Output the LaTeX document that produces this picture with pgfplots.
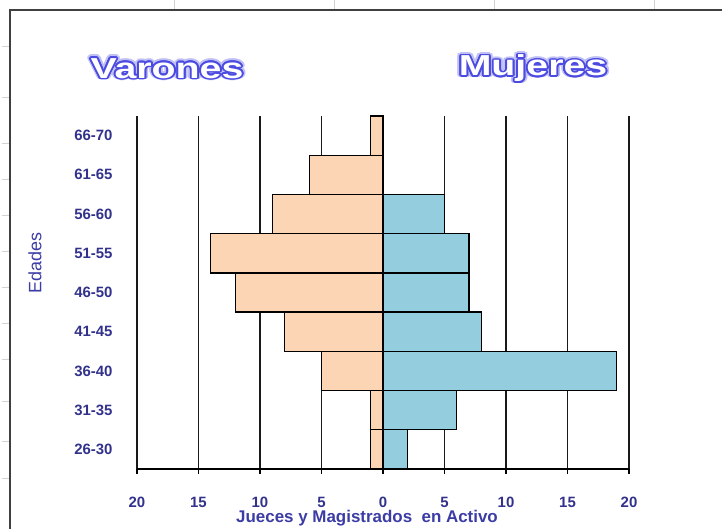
\documentclass[border=0pt]{standalone}
\usepackage{pgfplots}
\pgfplotsset{compat=1.18}
\usepackage{fontspec}
\setmainfont{Liberation Sans}
\usepackage{contour}
\contourlength{1.4pt}
\contournumber{16}
\definecolor{peach}{RGB}{252,213,180}
\definecolor{lblue}{RGB}{148,205,221}
\definecolor{navy}{RGB}{50,50,140}
\definecolor{lab}{RGB}{60,60,165}
\definecolor{tblue}{RGB}{75,75,225}
\begin{document}
\begin{tikzpicture}[x=1bp,y=1bp]
\begin{axis}[
  scale only axis, width=492bp, height=353bp,
  xmin=-20, xmax=20, ymin=-0.5, ymax=8.5,
  axis x line*=bottom, axis y line*=left,
  axis line style={-, black, line width=1.4bp},
  y axis line style={draw=none},
  xtick={-20,-15,-10,-5,0,5,10,15,20},
  xticklabels={20,15,10,5,0,5,10,15,20},
  ytick={0,1,2,3,4,5,6,7,8},
  yticklabels={26-30,31-35,36-40,41-45,46-50,51-55,56-60,61-65,66-70},
  tick align=outside, major tick length=5bp,
  xtick style={black, line width=1.4bp},
  ytick style={draw=none},
  xmajorgrids, major grid style={black!90, line width=1.4bp},
  tick label style={font=\bfseries\fontsize{15}{15}\selectfont, text=navy},
  xticklabel style={yshift=-20bp},
  yticklabel style={xshift=-16bp},
  xlabel={Jueces y Magistrados\ \ en Activo},
  xlabel style={at={(rel axis cs:0.4675,-0.138)}, anchor=center, font=\bfseries\fontsize{17}{17}\selectfont, text=lab},
  ylabel={Edades},
  ylabel style={at={(rel axis cs:-0.2073,0.5836)}, anchor=center, rotate=0, font=\fontsize{18}{18}\selectfont, text=lab},
  xbar, bar width=1,
  clip=false,
]
\addplot[xbar, bar shift=0pt, fill=peach, draw=black, line width=1.3bp] coordinates {
(-1,0) (-1,1) (-5,2) (-8,3) (-12,4) (-14,5) (-9,6) (-6,7) (-1,8)};
\addplot[xbar, bar shift=0pt, fill=lblue, draw=black, line width=1.3bp] coordinates {
(2,0) (6,1) (19,2) (8,3) (7,4) (7,5) (5,6) (0,7) (0,8)};
\draw[black, line width=2.8bp] (axis cs:0,-0.5) -- (axis cs:0,8.5);
\coordinate (sw) at (rel axis cs:0,0);
\end{axis}
\pgfresetboundingbox
\begin{scope}[shift={(sw)}, shift={(-137,-60)}]
\path[use as bounding box] (0,0) rectangle (722,529);
\foreach \xx in {174,334,494,654} \draw[gray!35, line width=0.8bp] (\xx,519) -- (\xx,529);
\foreach \yy in {46,97,143,179,215,251,287,323,359,401,441,478} \draw[gray!35, line width=0.8bp] (2,529-\yy) -- (10,529-\yy);
\draw[line width=1.6bp, black!75] (10,0) -- (10,519) -- (722,519);
\node[font=\bfseries\fontsize{29}{29}\selectfont, xscale=1.36] at (167,460) {\contourlength{2.8pt}\contour{tblue!35}{\textcolor{tblue!35}{Varones}}};
\node[font=\bfseries\fontsize{29}{29}\selectfont, xscale=1.36] at (533,460) {\contourlength{2.8pt}\contour{tblue!35}{\textcolor{tblue!35}{Mujeres}}};
\node[font=\bfseries\fontsize{29}{29}\selectfont, xscale=1.36] at (167,460) {\contour{tblue}{\textcolor{white}{Varones}}};
\node[font=\bfseries\fontsize{29}{29}\selectfont, xscale=1.36] at (533,460) {\contour{tblue}{\textcolor{white}{Mujeres}}};
\end{scope}
\end{tikzpicture}
\end{document}
